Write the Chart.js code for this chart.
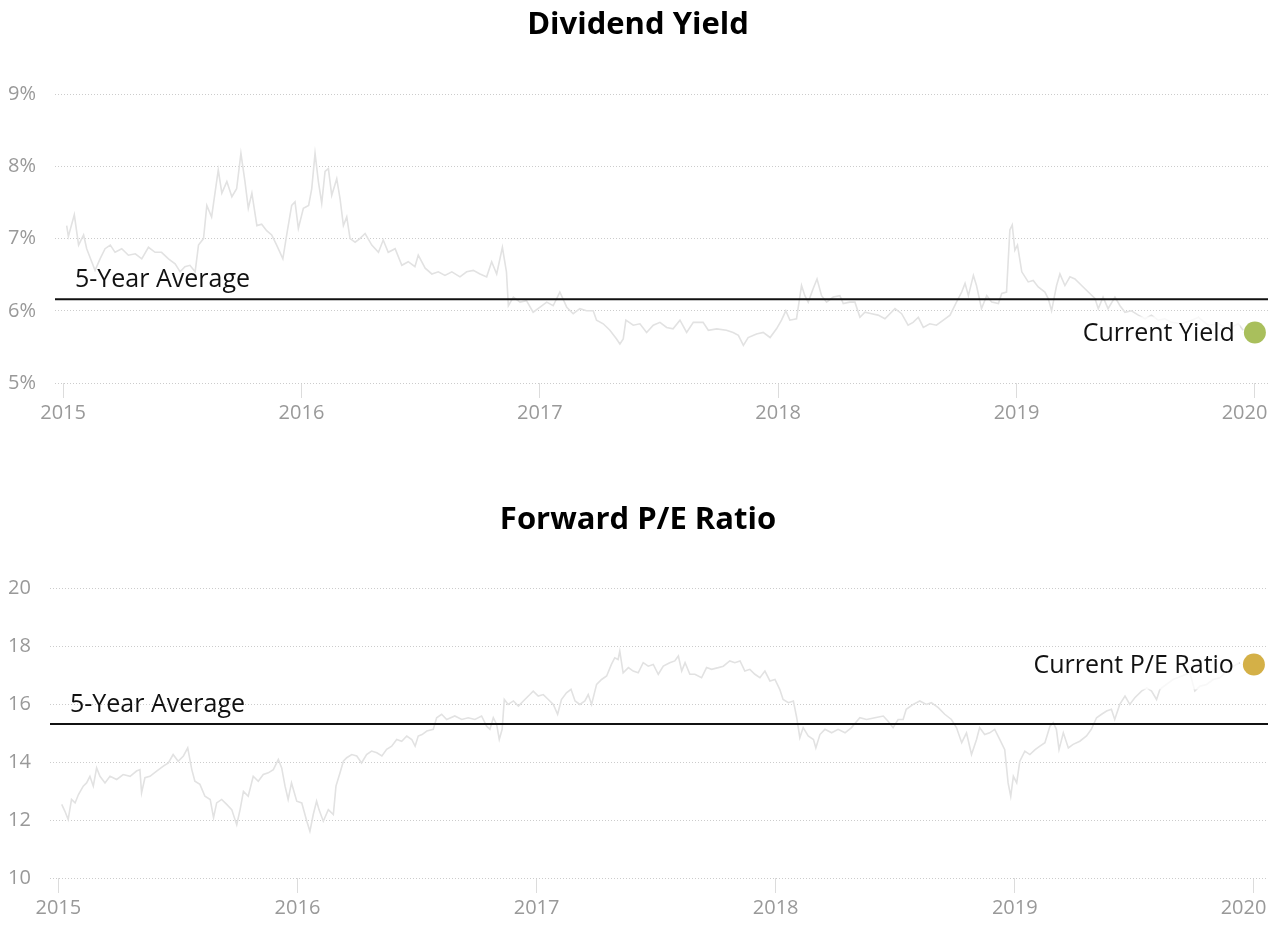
<!DOCTYPE html>
<html>
<head>
<meta charset="utf-8">
<script src="https://cdn.jsdelivr.net/npm/chart.js@4.4.1/dist/chart.umd.min.js"></script>
<style>
  html, body { margin: 0; padding: 0; background: #fff; }
  .panel { width: 1280px; position: relative; }
  canvas { display: block; }
</style>
</head>
<body>
<div class="panel" style="height:460px"><canvas id="yieldChart" width="1280" height="460"></canvas></div>
<div class="panel" style="height:465px"><canvas id="peChart" width="1280" height="465"></canvas></div>
<script>
// x values are decimal years
const yearTicks = [2015, 2016, 2017, 2018, 2019, 2020];
const yieldTicks = [5, 6, 7, 8, 9];
const peTicks = [10, 12, 14, 16, 18, 20];

const yieldDates = [
  2015.015, 2015.022, 2015.047, 2015.065, 2015.086, 2015.099, 2015.120, 2015.134, 2015.155, 2015.176,
  2015.198, 2015.218, 2015.246, 2015.274, 2015.303, 2015.330, 2015.358, 2015.386, 2015.413, 2015.442,
  2015.470, 2015.491, 2015.511, 2015.532, 2015.554, 2015.568, 2015.589, 2015.603, 2015.623, 2015.651,
  2015.666, 2015.687, 2015.708, 2015.728, 2015.746, 2015.763, 2015.777, 2015.792, 2015.813, 2015.833,
  2015.854, 2015.875, 2015.896, 2015.922, 2015.938, 2015.959, 2015.973, 2015.987,
  2016.008, 2016.030, 2016.043, 2016.057, 2016.071, 2016.085, 2016.099, 2016.113, 2016.127, 2016.148,
  2016.162, 2016.176, 2016.190, 2016.204, 2016.225, 2016.245, 2016.267, 2016.295, 2016.323, 2016.343,
  2016.364, 2016.393, 2016.421, 2016.448, 2016.476, 2016.490, 2016.519, 2016.547, 2016.574, 2016.602,
  2016.631, 2016.665, 2016.693, 2016.721, 2016.749, 2016.777, 2016.798, 2016.819, 2016.843, 2016.860,
  2016.868, 2016.889, 2016.917, 2016.944, 2016.972,
  2017.001, 2017.029, 2017.056, 2017.084, 2017.113, 2017.140, 2017.168, 2017.196, 2017.224, 2017.238,
  2017.266, 2017.294, 2017.322, 2017.336, 2017.350, 2017.361, 2017.392, 2017.420, 2017.448, 2017.476,
  2017.504, 2017.532, 2017.559, 2017.588, 2017.616, 2017.644, 2017.685, 2017.707, 2017.742, 2017.783,
  2017.811, 2017.833, 2017.854, 2017.874, 2017.909, 2017.937, 2017.966, 2017.993,
  2018.014, 2018.032, 2018.049, 2018.077, 2018.098, 2018.112, 2018.126, 2018.147, 2018.163, 2018.182,
  2018.203, 2018.231, 2018.259, 2018.273, 2018.300, 2018.322, 2018.343, 2018.364, 2018.392, 2018.419,
  2018.448, 2018.490, 2018.518, 2018.545, 2018.566, 2018.588, 2018.609, 2018.636, 2018.664, 2018.693,
  2018.721, 2018.748, 2018.770, 2018.784, 2018.798, 2018.819, 2018.832, 2018.853, 2018.875, 2018.896,
  2018.924, 2018.938, 2018.958, 2018.972, 2018.982, 2018.993,
  2019.004, 2019.022, 2019.049, 2019.070, 2019.091, 2019.119, 2019.133, 2019.147, 2019.168, 2019.182,
  2019.203, 2019.224, 2019.245, 2019.273, 2019.301, 2019.329, 2019.343, 2019.363, 2019.384, 2019.413,
  2019.434, 2019.455, 2019.482, 2019.511, 2019.539, 2019.566, 2019.594, 2019.622, 2019.650, 2019.692,
  2019.734, 2019.763, 2019.804, 2019.846, 2019.888, 2019.930, 2019.951
];
const yieldValues = [
  7.18, 7.03, 7.33, 6.91, 7.05, 6.86, 6.68, 6.56, 6.72, 6.86,
  6.91, 6.81, 6.86, 6.77, 6.79, 6.72, 6.88, 6.81, 6.81, 6.72,
  6.65, 6.54, 6.61, 6.63, 6.54, 6.91, 7.00, 7.46, 7.30, 7.95,
  7.63, 7.79, 7.58, 7.69, 8.18, 7.79, 7.42, 7.63, 7.18, 7.20,
  7.11, 7.05, 6.91, 6.72, 7.05, 7.46, 7.51, 7.14,
  7.42, 7.46, 7.69, 8.18, 7.79, 7.49, 7.93, 7.97, 7.60, 7.83,
  7.55, 7.18, 7.30, 7.00, 6.95, 7.00, 7.07, 6.91, 6.81, 6.98,
  6.81, 6.86, 6.63, 6.68, 6.61, 6.77, 6.59, 6.51, 6.54, 6.49,
  6.54, 6.47, 6.54, 6.56, 6.51, 6.47, 6.68, 6.51, 6.88, 6.54,
  6.07, 6.19, 6.12, 6.14, 5.98,
  6.05, 6.12, 6.07, 6.26, 6.05, 5.96, 6.03, 6.00, 6.00, 5.87,
  5.82, 5.73, 5.61, 5.54, 5.61, 5.87, 5.80, 5.82, 5.70, 5.80,
  5.84, 5.77, 5.75, 5.87, 5.70, 5.84, 5.84, 5.73, 5.75, 5.73,
  5.70, 5.66, 5.52, 5.63, 5.68, 5.70, 5.63, 5.75,
  5.87, 6.00, 5.87, 5.89, 6.35, 6.21, 6.12, 6.31, 6.44, 6.21,
  6.12, 6.19, 6.21, 6.10, 6.12, 6.12, 5.91, 5.98, 5.96, 5.94,
  5.89, 6.03, 5.96, 5.80, 5.84, 5.91, 5.77, 5.82, 5.80, 5.87,
  5.94, 6.12, 6.26, 6.38, 6.21, 6.49, 6.35, 6.03, 6.21, 6.12,
  6.10, 6.24, 6.26, 7.12, 7.19, 6.84,
  6.91, 6.54, 6.40, 6.42, 6.33, 6.26, 6.17, 6.00, 6.35, 6.51,
  6.35, 6.47, 6.44, 6.35, 6.26, 6.17, 6.03, 6.19, 6.03, 6.19,
  6.07, 5.98, 6.00, 5.94, 5.89, 5.94, 5.87, 5.89, 5.84, 5.82,
  5.87, 5.91, 5.80, 5.82, 5.75, 5.82, 5.73
];
const yieldAverage = 6.16;
const yieldCurrentDate = 2020.0;
const yieldCurrentValue = 5.70;

const peDates = [
  2015.014, 2015.027, 2015.041, 2015.055, 2015.070, 2015.084, 2015.104, 2015.118, 2015.132, 2015.146,
  2015.160, 2015.174, 2015.195, 2015.216, 2015.244, 2015.271, 2015.300, 2015.327, 2015.341, 2015.348,
  2015.362, 2015.383, 2015.411, 2015.439, 2015.460, 2015.480, 2015.501, 2015.523, 2015.541, 2015.558,
  2015.571, 2015.592, 2015.613, 2015.635, 2015.649, 2015.662, 2015.683, 2015.704, 2015.725, 2015.746,
  2015.760, 2015.774, 2015.794, 2015.815, 2015.836, 2015.857, 2015.878, 2015.899, 2015.920, 2015.934,
  2015.948, 2015.961, 2015.975, 2015.997,
  2016.018, 2016.039, 2016.052, 2016.066, 2016.080, 2016.090, 2016.108, 2016.129, 2016.150, 2016.161,
  2016.178, 2016.192, 2016.206, 2016.227, 2016.248, 2016.268, 2016.289, 2016.310, 2016.332, 2016.353,
  2016.373, 2016.394, 2016.415, 2016.436, 2016.457, 2016.478, 2016.492, 2016.505, 2016.521, 2016.541,
  2016.568, 2016.582, 2016.603, 2016.624, 2016.658, 2016.687, 2016.714, 2016.742, 2016.770, 2016.791,
  2016.805, 2016.819, 2016.833, 2016.844, 2016.856, 2016.865, 2016.881, 2016.903, 2016.924, 2016.951,
  2016.972, 2016.986,
  2017.007, 2017.028, 2017.049, 2017.070, 2017.088, 2017.104, 2017.125, 2017.144, 2017.161, 2017.181,
  2017.202, 2017.216, 2017.230, 2017.251, 2017.272, 2017.293, 2017.313, 2017.327, 2017.341, 2017.348,
  2017.362, 2017.384, 2017.404, 2017.425, 2017.446, 2017.467, 2017.488, 2017.509, 2017.530, 2017.557,
  2017.578, 2017.593, 2017.607, 2017.621, 2017.641, 2017.662, 2017.690, 2017.711, 2017.732, 2017.760,
  2017.781, 2017.808, 2017.829, 2017.851, 2017.871, 2017.892, 2017.913, 2017.934, 2017.955, 2017.976,
  2017.997,
  2018.017, 2018.031, 2018.053, 2018.074, 2018.088, 2018.101, 2018.115, 2018.136, 2018.158, 2018.168,
  2018.185, 2018.206, 2018.234, 2018.261, 2018.290, 2018.317, 2018.352, 2018.380, 2018.415, 2018.450,
  2018.470, 2018.491, 2018.512, 2018.533, 2018.546, 2018.575, 2018.603, 2018.630, 2018.651, 2018.680,
  2018.707, 2018.735, 2018.756, 2018.778, 2018.798, 2018.819, 2018.840, 2018.853, 2018.874, 2018.895,
  2018.916, 2018.937, 2018.958, 2018.972, 2018.983, 2018.994,
  2019.008, 2019.021, 2019.042, 2019.063, 2019.085, 2019.105, 2019.126, 2019.147, 2019.161, 2019.174,
  2019.185, 2019.203, 2019.224, 2019.244, 2019.272, 2019.300, 2019.320, 2019.342, 2019.363, 2019.384,
  2019.404, 2019.418, 2019.439, 2019.461, 2019.481, 2019.502, 2019.530, 2019.552, 2019.572, 2019.593,
  2019.607, 2019.634, 2019.662, 2019.698, 2019.732, 2019.753, 2019.774, 2019.802, 2019.830, 2019.858,
  2019.886, 2019.914, 2019.942
];
const peValues = [
  12.54, 12.31, 12.02, 12.71, 12.59, 12.88, 13.17, 13.28, 13.51, 13.17,
  13.80, 13.51, 13.28, 13.51, 13.40, 13.57, 13.51, 13.69, 13.74, 12.94,
  13.46, 13.51, 13.69, 13.86, 13.97, 14.26, 14.03, 14.21, 14.49, 13.74,
  13.34, 13.23, 12.82, 12.71, 12.08, 12.59, 12.71, 12.54, 12.36, 11.84,
  12.36, 12.99, 12.82, 13.51, 13.34, 13.57, 13.63, 13.74, 14.09, 13.80,
  13.17, 12.71, 13.28, 12.65,
  12.59, 11.96, 11.61, 12.19, 12.65, 12.36, 11.96, 12.36, 12.19, 13.17,
  13.63, 14.03, 14.15, 14.26, 14.21, 13.97, 14.26, 14.38, 14.32, 14.21,
  14.44, 14.55, 14.78, 14.72, 14.90, 14.78, 14.55, 14.90, 14.95, 15.07,
  15.13, 15.53, 15.65, 15.47, 15.59, 15.47, 15.53, 15.47, 15.59, 15.24,
  15.13, 15.53, 15.30, 14.78, 15.13, 16.16, 15.99, 16.11, 15.93, 16.16,
  16.33, 16.45,
  16.28, 16.33, 16.16, 15.99, 15.65, 16.16, 16.39, 16.51, 16.11, 15.99,
  16.11, 16.33, 15.99, 16.68, 16.85, 16.97, 17.37, 17.60, 17.54, 17.83,
  17.08, 17.26, 17.14, 17.08, 17.43, 17.31, 17.37, 17.03, 17.31, 17.43,
  17.49, 17.66, 17.14, 17.43, 17.03, 17.03, 16.91, 17.26, 17.20, 17.26,
  17.31, 17.49, 17.43, 17.49, 17.14, 17.20, 17.03, 16.91, 17.14, 16.80,
  16.85,
  16.51, 16.16, 16.05, 16.11, 15.53, 14.84, 15.19, 14.90, 14.78, 14.49,
  14.95, 15.13, 15.01, 15.13, 15.01, 15.19, 15.53, 15.47, 15.53, 15.59,
  15.41, 15.19, 15.47, 15.47, 15.82, 15.99, 16.11, 15.99, 16.05, 15.88,
  15.65, 15.47, 15.19, 14.67, 15.01, 14.26, 14.78, 15.19, 14.95, 15.01,
  15.13, 14.78, 14.43, 13.28, 12.82, 13.51,
  13.28, 14.03, 14.38, 14.26, 14.43, 14.55, 14.67, 15.24, 15.36, 15.13,
  14.43, 15.01, 14.49, 14.61, 14.72, 14.90, 15.13, 15.53, 15.65, 15.76,
  15.82, 15.47, 15.99, 16.28, 15.99, 16.22, 16.45, 16.56, 16.45, 16.16,
  16.51, 16.68, 16.85, 16.97, 17.08, 16.45, 16.62, 16.68, 16.85, 16.91,
  17.14, 17.31, 17.43
];
const peAverage = 15.31;
const peCurrentDate = 2020.0;
const peCurrentValue = 17.37;

const FONT = '"Open Sans", "Noto Sans", sans-serif';

// average label, current value label with a pale backing box
const refLabels = {
  id: 'refLabels',
  afterDatasetsDraw(chart, args, opts) {
    const { ctx, chartArea } = chart;
    const x = chart.scales.x, y = chart.scales.y;
    ctx.save();
    ctx.font = '25px ' + FONT;
    ctx.textBaseline = 'alphabetic';
    ctx.fillStyle = '#111';
    ctx.textAlign = 'left';
    ctx.fillText('5-Year Average', chartArea.left + 20, y.getPixelForValue(opts.average) - 12);

    const cx = x.getPixelForValue(opts.date);
    const cy = y.getPixelForValue(opts.value);
    const w = ctx.measureText(opts.text).width;
    const tx = cx - 20, ty = cy + 9;
    ctx.fillStyle = 'rgba(255,255,255,0.75)';
    ctx.fillRect(tx - w - 5, ty - 25, w + 10, 41);
    ctx.fillStyle = '#111';
    ctx.textAlign = 'right';
    ctx.fillText(opts.text, tx, ty);
    ctx.restore();
  }
};

function buildChart(id, p) {
  const series = p.dates.map((d, i) => ({ x: d, y: p.values[i] }));
  return new Chart(document.getElementById(id), {
    type: 'line',
    data: {
      datasets: [
        {
          data: [{ x: p.date, y: p.value }],
          pointRadius: 11, pointBackgroundColor: p.dotColor, pointBorderWidth: 0,
          showLine: false, order: 0
        },
        {
          data: [{ x: p.xMin, y: p.average }, { x: p.xMax, y: p.average }],
          borderColor: '#111', borderWidth: 2, pointRadius: 0, order: 1
        },
        {
          data: series,
          borderColor: '#e2e2e2', borderWidth: 1.6, pointRadius: 0, tension: 0, order: 2
        }
      ]
    },
    options: {
      responsive: false,
      animation: false,
      devicePixelRatio: 1,
      layout: { padding: { left: 8, right: 12, top: 0, bottom: p.padBottom } },
      plugins: {
        legend: { display: false },
        tooltip: { enabled: false },
        title: {
          display: true, text: p.title, color: '#000',
          font: { family: FONT, size: 31, weight: 'bold' },
          padding: { top: p.titleTop, bottom: p.titleBottom }
        },
        refLabels: { average: p.average, date: p.date, value: p.value, text: p.label }
      },
      scales: {
        x: {
          type: 'linear', min: p.xMin, max: p.xMax,
          afterBuildTicks: s => { s.ticks = yearTicks.map(v => ({ value: v })); },
          afterFit: s => { s.height = 45; s.paddingLeft = 0; s.paddingRight = 0; },
          grid: { drawOnChartArea: false, drawTicks: true, tickLength: 15, color: '#dcdcdc' },
          border: { display: false },
          ticks: {
            autoSkip: false, maxRotation: 0, padding: 3, color: '#999',
            font: { family: FONT, size: 20 },
            callback: v => v === yearTicks[yearTicks.length - 1] ? v + '    ' : String(v)
          }
        },
        y: {
          min: p.ticks[0], max: p.ticks[p.ticks.length - 1],
          afterBuildTicks: s => { s.ticks = p.ticks.map(v => ({ value: v })); },
          afterFit: s => { s.width = p.axisWidth; },
          grid: { color: '#cccccc', drawTicks: false },
          border: { display: false, dash: [1, 2] },
          ticks: {
            crossAlign: 'far', padding: 0, color: '#999',
            font: { family: FONT, size: 20 },
            callback: v => v + p.suffix
          }
        }
      }
    },
    plugins: [refLabels]
  });
}

function draw() {
  buildChart('yieldChart', {
    title: 'Dividend Yield', label: 'Current Yield', dotColor: '#a9bf5c',
    dates: yieldDates, values: yieldValues, average: yieldAverage,
    date: yieldCurrentDate, value: yieldCurrentValue,
    ticks: yieldTicks, suffix: '%',
    xMin: 2014.966, xMax: 2020.055,
    axisWidth: 47, padBottom: 32, titleTop: 7, titleBottom: 50
  });
  buildChart('peChart', {
    title: 'Forward P/E Ratio', label: 'Current P/E Ratio', dotColor: '#d4b047',
    dates: peDates, values: peValues, average: peAverage,
    date: peCurrentDate, value: peCurrentValue,
    ticks: peTicks, suffix: '',
    xMin: 2014.965, xMax: 2020.059,
    axisWidth: 42, padBottom: 2, titleTop: 42, titleBottom: 49
  });
}

if (document.fonts && document.fonts.load) {
  Promise.all([
    document.fonts.load('25px "Open Sans"'),
    document.fonts.load('bold 31px "Open Sans"')
  ]).then(draw, draw);
} else {
  draw();
}
</script>
</body>
</html>
